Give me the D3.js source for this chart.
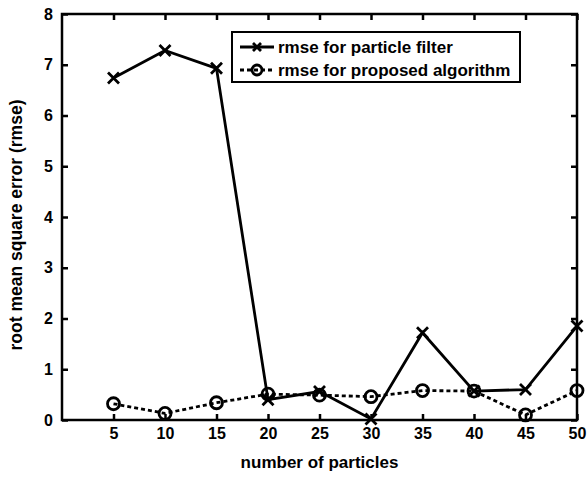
<!DOCTYPE html>
<html>
<head>
<meta charset="utf-8">
<script src="https://cdn.jsdelivr.net/npm/d3@7"></script>
<style>
  body { margin: 0; background: #fff; }
  text { font-family: "Liberation Sans", Arial, sans-serif; font-weight: bold; fill: #000; }
</style>
</head>
<body>
<div id="chart"></div>
<script>
// values
var particles = [5, 10, 15, 20, 25, 30, 35, 40, 45, 50];
var rmsePF = [6.74, 7.28, 6.93, 0.40, 0.56, 0.02, 1.72, 0.57, 0.60, 1.85];
var rmseProposed = [0.32, 0.13, 0.34, 0.51, 0.49, 0.46, 0.58, 0.57, 0.10, 0.58];
var xTicks = [5, 10, 15, 20, 25, 30, 35, 40, 45, 50];
var yTicks = [0, 1, 2, 3, 4, 5, 6, 7, 8];
var legendLabels = ['rmse for particle filter', 'rmse for proposed algorithm'];

var W = 587, H = 477;
var margin = {top: 14, right: 10, bottom: 57, left: 62};
var width = W - margin.left - margin.right,
	height = H - margin.top - margin.bottom;

var svg = d3.select('#chart').append('svg')
	.attr('width', W)
	.attr('height', H);
var g = svg.append('g')
	.attr('transform', 'translate(' + margin.left + ',' + margin.top + ')');

var x = d3.scaleLinear().domain([0, 50]).range([0, width]);
var y = d3.scaleLinear().domain([0, 8]).range([height, 0]);

// axes with inward ticks
var xAxis = g.append('g')
	.attr('transform', 'translate(0,' + height + ')')
	.call(d3.axisBottom(x).tickValues(xTicks).tickSize(-6).tickPadding(8));
var yAxis = g.append('g')
	.call(d3.axisLeft(y).tickValues(yTicks).tickSize(-6).tickPadding(9));
// mirrored ticks on top/right
var xTop = g.append('g')
	.call(d3.axisTop(x).tickValues(xTicks).tickSize(-6).tickFormat(''));
var yRight = g.append('g')
	.attr('transform', 'translate(' + width + ',0)')
	.call(d3.axisRight(y).tickValues(yTicks).tickSize(-6).tickFormat(''));

[xAxis, yAxis, xTop, yRight].forEach(function (a) {
	a.select('.domain').remove();
	a.selectAll('line').attr('stroke', '#000').attr('stroke-width', 2.5);
	a.selectAll('text').style('font-size', '16px');
});

g.append('rect')
	.attr('width', width)
	.attr('height', height)
	.attr('fill', 'none')
	.attr('stroke', '#000')
	.attr('stroke-width', 2.5);

// axis labels
svg.append('text')
	.attr('x', margin.left + width / 2)
	.attr('y', 468)
	.attr('text-anchor', 'middle')
	.style('font-size', '17px')
	.text('number of particles');
svg.append('text')
	.attr('transform', 'translate(22,225) rotate(-90)')
	.attr('text-anchor', 'middle')
	.style('font-size', '17.5px')
	.text('root mean square error (rmse)');

var line = d3.line()
	.x(function (d) { return x(d.x); })
	.y(function (d) { return y(d.y); });

var pfData = particles.map(function (p, i) { return {x: p, y: rmsePF[i]}; });
var prData = particles.map(function (p, i) { return {x: p, y: rmseProposed[i]}; });

function drawCross(sel, s) {
	sel.append('path')
		.attr('d', 'M' + (-s) + ',' + (-s) + 'L' + s + ',' + s + 'M' + (-s) + ',' + s + 'L' + s + ',' + (-s))
		.attr('stroke', '#000')
		.attr('stroke-width', 2.8)
		.attr('fill', 'none');
}
function drawCircle(sel, r) {
	sel.append('circle')
		.attr('r', r)
		.attr('stroke', '#000')
		.attr('stroke-width', 2.8)
		.attr('fill', 'none');
}

// proposed algorithm: dashed with circles
g.append('path')
	.datum(prData)
	.attr('d', line)
	.attr('fill', 'none')
	.attr('stroke', '#000')
	.attr('stroke-width', 2.8)
	.attr('stroke-dasharray', '4,3');
g.selectAll('.mk-pr').data(prData).enter().append('g')
	.attr('class', 'mk-pr')
	.attr('transform', function (d) { return 'translate(' + x(d.x) + ',' + y(d.y) + ')'; })
	.call(drawCircle, 6);

// particle filter: solid with crosses
g.append('path')
	.datum(pfData)
	.attr('d', line)
	.attr('fill', 'none')
	.attr('stroke', '#000')
	.attr('stroke-width', 2.8);
g.selectAll('.mk-pf').data(pfData).enter().append('g')
	.attr('class', 'mk-pf')
	.attr('transform', function (d) { return 'translate(' + x(d.x) + ',' + y(d.y) + ')'; })
	.call(drawCross, 5.5);

// legend
var lg = svg.append('g').attr('transform', 'translate(232,32)');
lg.append('rect')
	.attr('width', 288)
	.attr('height', 50)
	.attr('fill', '#fff')
	.attr('stroke', '#000')
	.attr('stroke-width', 2);
legendLabels.forEach(function (lab, i) {
	var ly = 15 + i * 23;
	var row = lg.append('g').attr('transform', 'translate(0,' + ly + ')');
	row.append('line')
		.attr('x1', 8).attr('x2', 42)
		.attr('stroke', '#000')
		.attr('stroke-width', 2.8)
		.attr('stroke-dasharray', i === 0 ? null : '4,3');
	var m = row.append('g').attr('transform', 'translate(25,0)');
	if (i === 0) { drawCross(m, 4); } else { drawCircle(m, 5); }
	row.append('text')
		.attr('x', 46)
		.attr('y', 6)
		.style('font-size', '17px')
		.text(lab);
});
</script>
</body>
</html>
